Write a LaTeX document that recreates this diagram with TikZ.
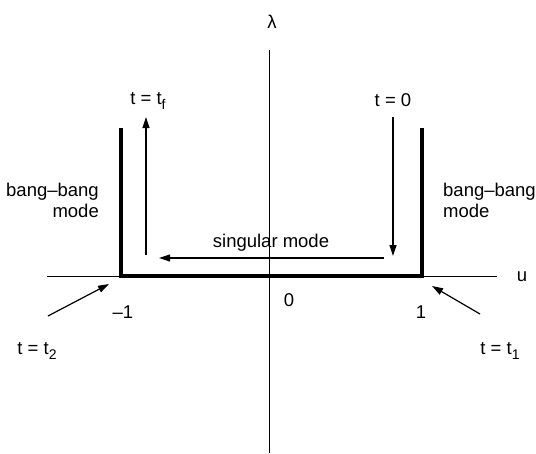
\documentclass[tikz,border=0pt]{standalone}
\usepackage{fontspec}
\setmainfont{Liberation Sans}
\usetikzlibrary{arrows.meta}
\newcommand{\mysub}[1]{\raisebox{-0.45ex}{\fontsize{14}{14}\selectfont #1}}
\begin{document}
\begin{tikzpicture}[x=1pt,y=-1pt,
  lbl/.style={inner sep=0pt,font=\fontsize{18.5}{21}\selectfont},
  thin axis/.style={line width=1pt},
  thick bound/.style={line width=3.6pt},
  arr/.style={line width=1.2pt,-{Triangle[length=11pt,width=7pt]}}]
\useasboundingbox (0,0) rectangle (536,453);
% axes
\coordinate (yb) at (269,453); \coordinate (yt) at (269,50);
\coordinate (xl) at (47,276); \coordinate (xr) at (497,276);
\draw[thin axis] (yb) -- (yt);
\draw[thin axis] (xl) -- (xr);
% thick U
\coordinate (lt) at (121,128); \coordinate (lb) at (121,276);
\coordinate (rb) at (422,276); \coordinate (rt) at (422,128);
\draw[thick bound,line join=miter] (lt) -- (lb) -- (rb) -- (rt);
% labels
\node[lbl] (lam) at (272,22) {λ};
\node[lbl] (u) at (522,277) {u};
\node[lbl] (zero) at (289,300) {0};
\node[lbl] (m1) at (123,312) {\textendash 1};
\node[lbl] (p1) at (421,312) {1};
\node[lbl] (tf) at (148,101) {t = t\mysub{f}};
\node[lbl] (t0) at (393,100) {t = 0};
\node[lbl,align=right,anchor=east] (bbl) at (99,200) {bang\textendash bang\\mode};
\node[lbl,align=left,anchor=west] (bbr) at (443,200) {bang\textendash bang\\mode};
\node[lbl] (sing) at (271,243) {singular mode};
\node[lbl] (t2) at (37,351) {t = t\mysub{2}};
\node[lbl] (t1) at (500,351) {t = t\mysub{1}};
% arrows
\coordinate (a1s) at (146,255); \coordinate (a1e) at (146,117);
\draw[arr] (a1s) -- (a1e);
\coordinate (a2s) at (393,117); \coordinate (a2e) at (393,256);
\draw[arr] (a2s) -- (a2e);
\coordinate (a3s) at (384,258); \coordinate (a3e) at (159,258);
\draw[arr] (a3s) -- (a3e);
\coordinate (a4s) at (48,316); \coordinate (a4e) at (109,284);
\draw[arr] (a4s) -- (a4e);
\coordinate (a5s) at (480,314); \coordinate (a5e) at (432,286);
\draw[arr] (a5s) -- (a5e);
\end{tikzpicture}
\end{document}
